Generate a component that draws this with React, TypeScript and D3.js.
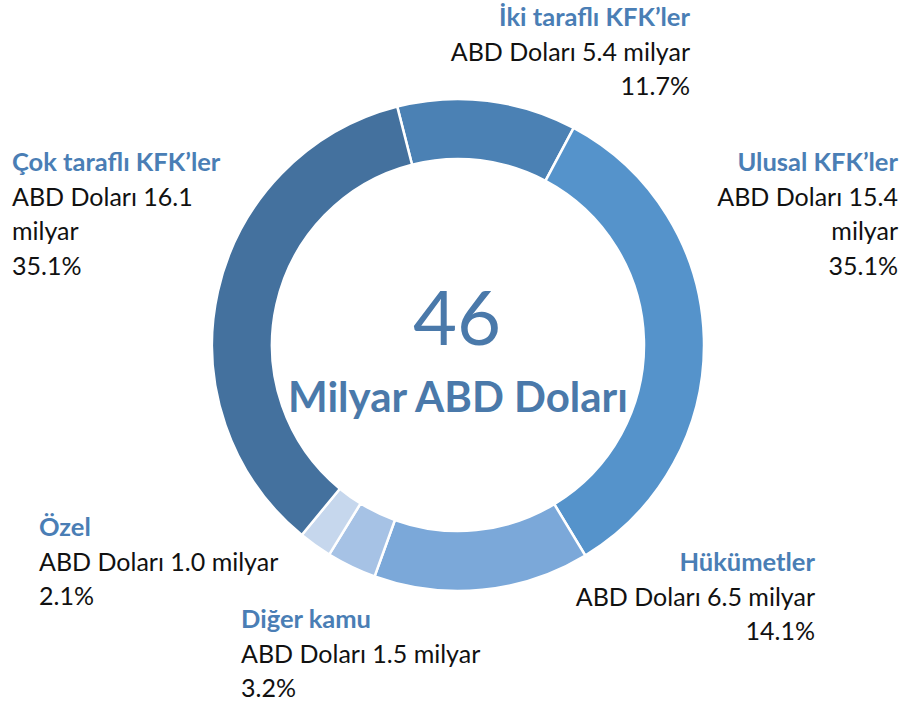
import React, { useEffect, useRef } from "react";
import * as d3 from "d3";

// data
const categories = [
  "İki taraflı KFK’ler",
  "Ulusal KFK’ler",
  "Hükümetler",
  "Diğer kamu",
  "Özel",
  "Çok taraflı KFK’ler",
];
const values = [5.4, 15.4, 6.5, 1.5, 1.0, 16.1];
const percentLabels = ["11.7%", "35.1%", "14.1%", "3.2%", "2.1%", "35.1%"];
const totalLabel = "46";
const totalUnit = "Milyar ABD Doları";

const colors = ["#4b81b4", "#5593cb", "#7ba8d9", "#a6c2e5", "#c6d7ed", "#44719e"];

// label layout: anchor x, title baseline, alignment, wrap amount onto own line
const labelLayout = [
  { x: 690, y: 26, anchor: "end", wrap: false },
  { x: 898, y: 171, anchor: "end", wrap: true },
  { x: 815, y: 571, anchor: "end", wrap: false },
  { x: 241, y: 628, anchor: "start", wrap: false },
  { x: 39, y: 536, anchor: "start", wrap: false },
  { x: 12, y: 171, anchor: "start", wrap: true },
];

const App = () => {
  const svgRef = useRef<SVGSVGElement>(null);

  useEffect(() => {
    document.body.style.margin = "0";
    const width = 901;
    const height = 708;
    const cx = 458;
    const cy = 345;
    const lineH = 34.5;
    const font = "Lato, 'Open Sans', sans-serif";

    const svg = d3.select(svgRef.current).attr("width", width).attr("height", height);
    svg.selectAll("*").remove();

    const start = (-14.3 * Math.PI) / 180;
    const pie = d3
      .pie<number>()
      .sort(null)
      .startAngle(start)
      .endAngle(start + 2 * Math.PI);
    const arc = d3.arc<d3.PieArcDatum<number>>().innerRadius(186).outerRadius(246);

    // ring
    svg
      .append("g")
      .attr("transform", `translate(${cx},${cy})`)
      .selectAll("path")
      .data(pie(values))
      .join("path")
      .attr("d", arc)
      .attr("fill", (d, i) => colors[i])
      .attr("stroke", "#fff")
      .attr("stroke-width", 2.5);

    // centre text
    svg
      .append("text")
      .attr("x", cx - 1)
      .attr("y", 345)
      .attr("text-anchor", "middle")
      .attr("font-family", font)
      .attr("font-size", 76)
      .attr("fill", "#4a79aa")
      .text(totalLabel);
    svg
      .append("text")
      .attr("x", cx)
      .attr("y", 412)
      .attr("text-anchor", "middle")
      .attr("font-family", font)
      .attr("font-weight", "bold")
      .attr("font-size", 42)
      .attr("fill", "#4a79aa")
      .text(totalUnit);

    // labels
    categories.forEach((c, i) => {
      const L = labelLayout[i];
      const amount = values[i].toFixed(1);
      const body = L.wrap
        ? [`ABD Doları ${amount}`, "milyar", percentLabels[i]]
        : [`ABD Doları ${amount} milyar`, percentLabels[i]];
      const g = svg
        .append("g")
        .attr("font-family", font)
        .attr("text-anchor", L.anchor);
      g.append("text")
        .attr("x", L.x)
        .attr("y", L.y)
        .attr("font-size", 25.5)
        .attr("font-weight", "bold")
        .attr("fill", "#4a7eb5")
        .text(c);
      body.forEach((t, j) => {
        g.append("text")
          .attr("x", L.x)
          .attr("y", L.y + lineH * (j + 1))
          .attr("font-size", 25)
          .attr("fill", "#111")
          .text(t);
      });
    });
  }, []);

  return <svg ref={svgRef}></svg>;
};

export default App;
